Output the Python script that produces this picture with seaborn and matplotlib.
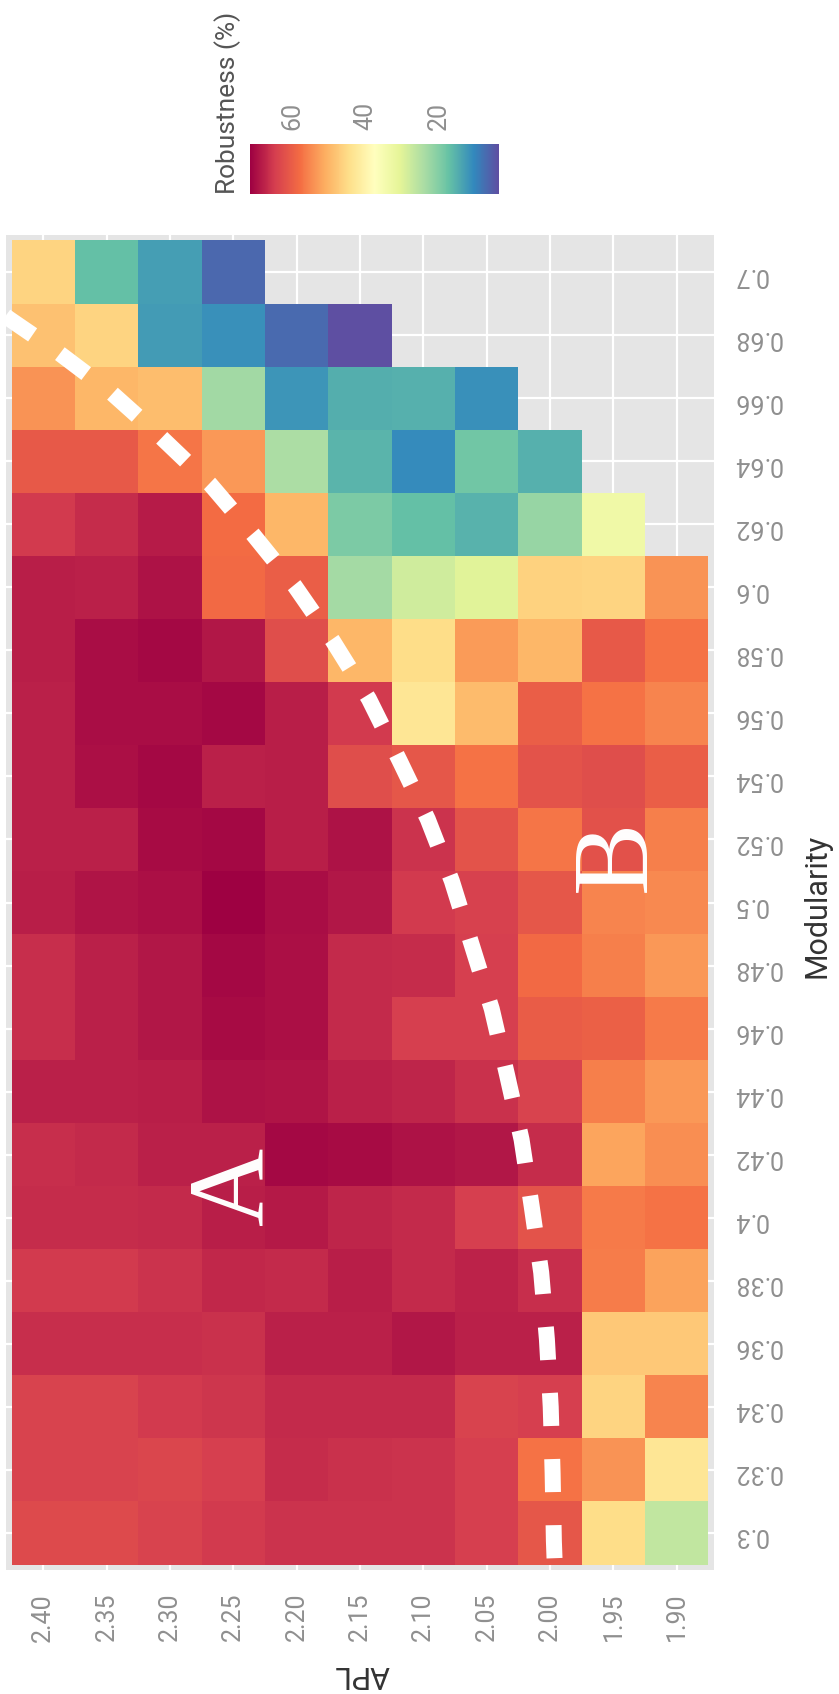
import numpy as np
import pandas as pd
import matplotlib
matplotlib.use('Agg')
import matplotlib.pyplot as plt
import seaborn as sns

# Heatmap data: rows = modularity (top to bottom), columns = APL (left to right)
modularity = [0.70, 0.68, 0.66, 0.64, 0.62, 0.60, 0.58, 0.56, 0.54, 0.52, 0.50,
              0.48, 0.46, 0.44, 0.42, 0.40, 0.38, 0.36, 0.34, 0.32, 0.30]
mod_labels = ['0.7', '0.68', '0.66', '0.64', '0.62', '0.6', '0.58', '0.56', '0.54', '0.52', '0.5',
              '0.48', '0.46', '0.44', '0.42', '0.4', '0.38', '0.36', '0.34', '0.32', '0.3']
apl = [2.40, 2.35, 2.30, 2.25, 2.20, 2.15, 2.10, 2.05, 2.00, 1.95, 1.90]
apl_labels = ['2.40', '2.35', '2.30', '2.25', '2.20', '2.15', '2.10', '2.05', '2.00', '1.95', '1.90']

nan = np.nan
robustness = [
    [46.0, 17.0, 13.0, 6.5, nan, nan, nan, nan, nan, nan, nan],
    [48.5, 46.0, 12.8, 11.3, 6.8, 3.5, nan, nan, nan, nan, nan],
    [54.0, 50.0, 49.0, 23.0, 12.0, 14.8, 15.0, 11.4, nan, nan, nan],
    [60.7, 60.7, 57.0, 53.3, 24.0, 15.5, 10.7, 18.3, 15.1, nan, nan],
    [65.0, 66.6, 68.6, 58.2, 50.0, 19.3, 17.0, 15.3, 22.0, 33.5, nan],
    [68.4, 67.9, 69.6, 58.3, 60.0, 23.2, 28.2, 30.3, 46.3, 46.0, 54.0],
    [68.4, 70.2, 70.6, 69.0, 62.4, 50.0, 44.5, 53.0, 50.0, 60.7, 57.5],
    [68.0, 70.2, 70.2, 70.6, 68.4, 65.0, 43.0, 49.5, 60.0, 57.5, 55.6],
    [68.0, 69.8, 70.6, 68.0, 68.4, 62.5, 61.0, 57.5, 61.5, 62.5, 60.0],
    [68.0, 68.0, 70.3, 70.6, 68.4, 69.6, 66.0, 61.5, 57.0, 62.0, 56.0],
    [68.4, 69.4, 69.9, 71.6, 70.1, 69.2, 65.0, 64.4, 61.0, 55.5, 55.0],
    [66.5, 68.0, 69.0, 70.8, 69.9, 67.0, 66.6, 64.5, 58.5, 56.0, 53.5],
    [66.5, 68.0, 69.0, 70.4, 69.8, 67.0, 64.5, 64.5, 60.2, 59.8, 56.5],
    [68.0, 68.0, 68.4, 69.5, 69.3, 68.0, 67.5, 66.2, 64.0, 56.0, 53.5],
    [66.5, 67.0, 68.0, 68.0, 70.8, 70.3, 69.7, 69.0, 66.6, 52.0, 54.5],
    [66.6, 66.6, 67.0, 68.4, 68.8, 67.5, 67.0, 64.5, 61.5, 56.5, 57.5],
    [65.0, 65.0, 66.0, 67.3, 67.0, 68.2, 67.0, 67.8, 66.3, 56.3, 52.3],
    [66.3, 66.3, 66.5, 66.2, 68.0, 68.0, 69.0, 68.0, 68.0, 47.5, 47.5],
    [64.0, 64.0, 65.0, 65.5, 67.0, 67.0, 67.0, 64.0, 64.5, 46.0, 55.5],
    [64.0, 64.0, 63.5, 64.5, 66.6, 66.2, 65.8, 64.5, 57.5, 54.0, 43.0],
    [63.0, 63.0, 64.0, 65.0, 65.8, 65.8, 65.8, 64.5, 61.0, 44.5, 26.5],
]

# Hand-drawn boundary between regions A and B (APL, modularity)
boundary_apl = [1.9965, 1.997, 1.998, 1.9995, 2.0025, 2.007, 2.0145, 2.0225, 2.034, 2.046,
                2.062, 2.0775, 2.0965, 2.1185, 2.143, 2.1715, 2.2015, 2.2345, 2.2685, 2.307,
                2.347, 2.3885, 2.427, 2.435]
boundary_mod = [0.292, 0.2974, 0.319, 0.340, 0.3614, 0.3826, 0.4036, 0.4248, 0.4454, 0.4662,
                0.4868, 0.5068, 0.5264, 0.5448, 0.5646, 0.583, 0.6004, 0.6168, 0.6328, 0.6476,
                0.662, 0.6746, 0.6852, 0.6876]
region_labels = ['A', 'B']
region_apl = [2.2475, 1.946]
region_mod = [0.410, 0.5147]


def to_col(a):
    return (apl[0] - np.asarray(a)) / 0.05 + 0.5


def to_row(m):
    return (modularity[0] - np.asarray(m)) / 0.02 + 0.5


sns.set_theme(style='white')
plt.rcParams['font.family'] = ['Roboto', 'DejaVu Sans']

W, H = 839, 1694
fig = plt.figure(figsize=(W / 100, H / 100), dpi=100)
ax = fig.add_axes([6 / W, 1 - 1570 / H, 708 / W, 1335 / H])
cax = fig.add_axes([250 / W, 1 - 194 / H, 249 / W, 50 / H])

df = pd.DataFrame(robustness, index=mod_labels, columns=apl_labels)
sns.heatmap(df, ax=ax, cmap='Spectral_r', cbar_ax=cax,
            cbar_kws={'orientation': 'horizontal'},
            xticklabels=True, yticklabels=True)

# ggplot-like panel
ax.set_facecolor('#E5E5E5')
ax.set_axisbelow(True)
ax.grid(True, color='white', linewidth=1.6)
ax.set_xlim(-0.087, 11.087)
ax.set_ylim(21.087, -0.087)
for s in ax.spines.values():
    s.set_visible(False)

ax.yaxis.tick_right()
ax.set_yticklabels(mod_labels, rotation=180)
ax.set_xticklabels(apl_labels, rotation=90)
ax.tick_params(axis='y', length=0, pad=13.7, labelsize=18, labelcolor='#8f8f8f')
ax.tick_params(axis='x', length=0, pad=16.5, labelsize=18, labelcolor='#8f8f8f')
ax.set_xlabel('')
ax.set_ylabel('')

# boundary and region letters
ax.plot(to_col(boundary_apl), to_row(boundary_mod), color='white', lw=11.5,
        linestyle=(0, (2.07, 2.07)), dash_capstyle='butt', clip_on=False, zorder=5)
for lab, a, m in zip(region_labels, region_apl, region_mod):
    ax.text(to_col(a), to_row(m), lab, rotation=90, ha='center', va='center',
            fontsize=78, color='white', family='Liberation Serif', zorder=6)

# colorbar
cb = ax.collections[0].colorbar
cb.outline.set_visible(False)
cax.invert_xaxis()
cb.set_ticks([60, 40, 20])
cax.minorticks_off()
cax.tick_params(axis='x', which='major', top=True, bottom=True, labeltop=True,
                labelbottom=False, direction='in', length=8, width=1.3,
                color='white', labelsize=18, labelcolor='#8f8f8f', pad=10,
                labelrotation=90)

fig.text(228 / W, 1 - 194 / H, 'Robustness (%)', rotation=90, ha='center', va='bottom',
         fontsize=19, color='#555555')
fig.text(817 / W, 1 - 906 / H, 'Modularity', rotation=90, ha='center', va='center',
         fontsize=22, color='#333333')
fig.text(362 / W, 1 - 1674 / H, 'APL', rotation=180, ha='center', va='center',
         fontsize=22, color='#333333')

fig.savefig('out.png', dpi=100)
